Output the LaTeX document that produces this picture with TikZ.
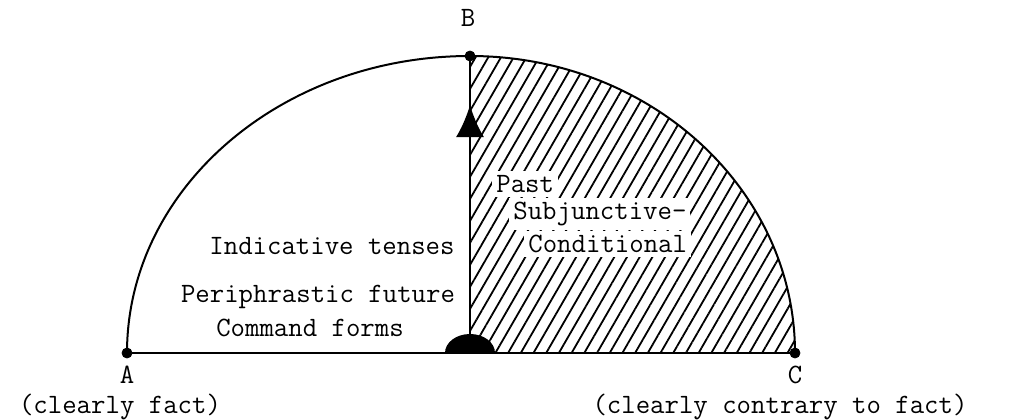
\documentclass[tikz,border=0pt]{standalone}
\usepackage{fontspec}
\usetikzlibrary{arrows.meta,patterns.meta}
\tikzset{
  rim/.style={line width=1pt},
  dot/.style={circle, draw, fill=black, inner sep=0pt, minimum size=5pt},
  lbl/.style={font=\ttfamily\fontsize{14}{16}\selectfont, inner sep=0pt},
  hlbl/.style={lbl, fill=white, inner sep=2pt},
  hatch/.style={pattern={Lines[angle=60,distance=5.5pt,line width=0.9pt]}}
}
\begin{document}
\begin{tikzpicture}[x=0.5pt,y=0.5pt]
  \useasboundingbox (0,0) rectangle (1009,419);
  % points
  \coordinate (O) at (470,66);
  \coordinate (tip) at (470,314);
  \node[dot] (A) at (127,66) {};
  \node[dot] (B) at (470,363) {};
  \node[dot] (C) at (795,66) {};
  % shaded quarter
  \fill[hatch] (O) -- (B.center) arc[start angle=90, end angle=0, x radius=162.5pt, y radius=148.5pt] -- cycle;
  % outline
  \draw[rim] (A.center) arc[start angle=180, end angle=90, x radius=171.5pt, y radius=148.5pt]
    arc[start angle=90, end angle=0, x radius=162.5pt, y radius=148.5pt];
  \draw[rim] (A) -- (C);
  \draw[rim] (O) -- (B);
  \draw[rim, -{Latex[length=16pt,width=14pt]}] (O) -- (tip);
  \fill (O) ++(-12.5pt,0) arc[start angle=180, end angle=0, x radius=12.5pt, y radius=9.5pt] -- cycle;
  % labels
  \node[lbl] (bl) at (468,401) {B};
  \node[lbl] (al) at (127,44) {A};
  \node[lbl] (cl) at (795,44) {C};
  \node[lbl] (fact) at (120,12) {(clearly fact)};
  \node[lbl] (contrary) at (780,12) {(clearly contrary to fact)};
  \node[lbl] (indic) at (332,173) {Indicative tenses};
  \node[lbl] (peri) at (318,122) {Periphrastic future};
  \node[lbl] (cmd) at (310,91) {Command forms};
  \node[hlbl, anchor=west] (past) at (492,235) {Past};
  \node[hlbl, anchor=west] (subj) at (509,205) {Subjunctive-};
  \node[hlbl, anchor=west] (cond) at (524,175) {Conditional};
\end{tikzpicture}
\end{document}
